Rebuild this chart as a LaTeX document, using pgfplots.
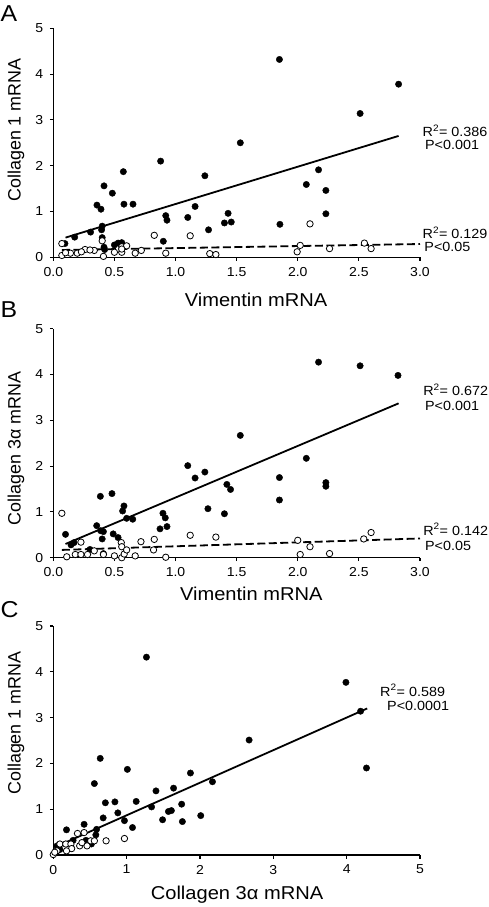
\documentclass[border=0pt]{standalone}
\usepackage{pgfplots}
\pgfplotsset{compat=1.18}
\usepackage{fontspec}
\setmainfont{Liberation Sans}[FakeStretch=1.08]
\newfontfamily\ylfont{Liberation Sans}

\pgfplotsset{
  panel/.style={
    scale only axis, width=366.7pt, height=229pt,
    axis lines=left, axis line style={-, line width=1.1pt},
    tick align=outside, major tick length=3.5pt,
    tick style={line width=1.1pt, black},
    ymin=0, ymax=5, ytick={0,1,2,3,4,5},
    enlargelimits=false, clip=false,
    /pgf/number format/assume math mode=true,
    tick label style={font=\fontsize{13}{15}\selectfont},
    xticklabel style={yshift=-3pt},
    yticklabel style={xshift=-3pt},
    xlabel style={font=\fontsize{18.6}{22}\selectfont},
    ylabel style={font=\ylfont\fontsize{17.9}{21}\selectfont},
  },
  filled/.style={only marks, mark=*, mark size=3.2pt, mark options={fill=black, draw=black, line width=0.4pt}},
  open/.style={only marks, mark=*, mark size=3.2pt, mark options={fill=white, draw=black, line width=0.8pt}},
  fit/.style={black, line width=1.8pt, no marks},
  fitd/.style={black, line width=1.8pt, no marks, dash pattern=on 8pt off 3.5pt},
}
\tikzset{ann/.style={anchor=base west, inner sep=0pt, text height=0.75em, text depth=0pt, font=\fontsize{13.3}{15}\selectfont}}

\begin{document}
\begin{tikzpicture}
\path[use as bounding box] (0pt,0pt) rectangle (488pt,-907pt);
\node[anchor=base west, inner sep=0pt, font=\fontsize{23}{25}\selectfont] at (0.5pt,-22pt) {A};
\node[anchor=base west, inner sep=0pt, font=\fontsize{23}{25}\selectfont] at (0.5pt,-317pt) {B};
\node[anchor=base west, inner sep=0pt, font=\fontsize{23}{25}\selectfont] at (0.5pt,-617pt) {C};

% ---------------- Panel A ----------------
\begin{axis}[panel, at={(53.3pt,-257.3pt)}, anchor=south west,
  xmin=0, xmax=3, xtick={0,0.5,1,1.5,2,2.5,3},
  xticklabel style={/pgf/number format/.cd, fixed, fixed zerofill, precision=1},
  xlabel={Vimentin mRNA}, xlabel style={at={(axis description cs:0.553,-0.216)}, anchor=base},
  ylabel={Collagen 1 mRNA}, ylabel style={at={(axis description cs:-0.102,0.556)}, anchor=center},
]
\addplot[filled] coordinates {
(1.85,4.32) (2.825,3.78) (2.51,3.14) (1.53,2.50) (0.878,2.10) (0.573,1.87)
(1.24,1.78) (2.17,1.91) (2.07,1.59) (2.23,1.46) (0.415,1.56) (0.483,1.40)
(0.357,1.14) (0.39,1.05) (0.578,1.16) (0.652,1.16) (1.16,1.11) (1.10,0.87)
(0.92,0.91) (0.93,0.81) (1.43,0.96) (2.23,0.95) (1.40,0.75) (1.456,0.77)
(1.854,0.72) (1.27,0.60) (0.40,0.68) (0.395,0.60) (0.305,0.55) (0.175,0.44)
(0.095,0.30) (0.40,0.43) (0.90,0.35) (0.50,0.27) (0.53,0.31) (0.56,0.32)
(0.415,0.22) (0.42,0.17)
};
\addplot[open] coordinates {
(0.07,0.30) (0.07,0.04) (0.14,0.09) (0.196,0.09) (0.26,0.17) (0.335,0.15)
(0.10,0.10) (0.23,0.12) (0.30,0.16)
(0.40,0.36) (0.41,0.02) (0.50,0.11) (0.56,0.11) (0.56,0.23) (0.60,0.25)
(0.56,0.18)
(0.67,0.09) (0.72,0.15) (0.826,0.48) (0.92,0.09) (1.12,0.47) (1.28,0.08)
(1.33,0.06) (1.995,0.12) (2.02,0.26) (2.10,0.73) (2.26,0.19) (2.545,0.31) (2.60,0.19)
};
\addplot[fit] coordinates {(0.10,0.43) (2.825,2.65)};
\addplot[fitd] coordinates {(0.07,0.16) (3.0,0.29)};
\node[ann] at (axis cs:3.02,2.627) {R\textsuperscript{2}= 0.386};
\node[ann] at (axis cs:3.04,2.35) {P<0.001};
\node[ann] at (axis cs:3.02,0.40) {R\textsuperscript{2}= 0.129};
\node[ann] at (axis cs:3.035,0.116) {P<0.05};
\end{axis}

% ---------------- Panel B ----------------
\begin{axis}[panel, at={(53.3pt,-557.7pt)}, anchor=south west,
  xmin=0, xmax=3, xtick={0,0.5,1,1.5,2,2.5,3},
  xticklabel style={/pgf/number format/.cd, fixed, fixed zerofill, precision=1},
  xlabel={Vimentin mRNA}, xlabel style={at={(axis description cs:0.540,-0.187)}, anchor=base},
  ylabel={Collagen 3α mRNA}, ylabel style={at={(axis description cs:-0.102,0.477)}, anchor=center},
]
\addplot[filled] coordinates {
(2.17,4.27) (2.51,4.19) (2.82,3.98) (1.53,2.67) (1.10,2.01) (2.07,2.17)
(1.24,1.87) (1.16,1.74) (1.85,1.75) (1.42,1.60) (1.45,1.49) (2.23,1.64)
(2.23,1.56) (1.85,1.26) (1.265,1.07) (1.40,0.96) (0.48,1.40) (0.385,1.34)
(0.578,1.13) (0.567,1.02) (0.60,0.86) (0.65,0.84) (0.897,0.97) (0.916,0.87)
(0.873,0.63) (0.93,0.68) (0.355,0.70) (0.387,0.59) (0.41,0.57) (0.40,0.41)
(0.49,0.52) (0.53,0.44) (0.10,0.51) (0.17,0.33) (0.145,0.28) (0.30,0.18)
(0.41,0.09)
};
\addplot[open] coordinates {
(0.07,0.97) (0.11,0.02) (0.18,0.07) (0.226,0.34) (0.226,0.07) (0.28,0.07)
(0.335,0.15) (0.41,0.07) (0.50,0.04) (0.556,0.33) (0.56,0.24) (0.56,0.0)
(0.58,0.08) (0.60,0.17) (0.67,0.04) (0.717,0.35) (0.826,0.40) (0.82,0.17)
(0.92,0.01) (1.12,0.49) (1.33,0.45) (2.0,0.38) (2.02,0.07) (2.10,0.24)
(2.26,0.09) (2.54,0.41) (2.60,0.55)
};
\addplot[fit] coordinates {(0.10,0.30) (2.825,3.37)};
\addplot[fitd] coordinates {(0.07,0.17) (3.0,0.42)};
\node[ann] at (axis cs:3.025,3.546) {R\textsuperscript{2}= 0.672};
\node[ann] at (axis cs:3.04,3.22) {P<0.001};
\node[ann] at (axis cs:3.025,0.495) {R\textsuperscript{2}= 0.142};
\node[ann] at (axis cs:3.04,0.168) {P<0.05};
\end{axis}

% ---------------- Panel C ----------------
\begin{axis}[panel, at={(53.3pt,-855pt)}, anchor=south west,
  xmin=0, xmax=5, xtick={0,1,2,3,4,5},
  xlabel={Collagen 3α mRNA}, xlabel style={at={(axis description cs:0.501,-0.196)}, anchor=base},
  ylabel={Collagen 1 mRNA}, ylabel style={at={(axis description cs:-0.102,0.576)}, anchor=center},
]
\addplot[filled] coordinates {
(1.27,4.32) (3.99,3.77) (4.19,3.14) (4.27,1.90) (2.67,2.51) (0.64,2.11)
(1.01,1.87) (1.87,1.79) (2.17,1.60) (0.56,1.56) (1.64,1.46) (1.40,1.40)
(0.71,1.14) (0.84,1.16) (1.13,1.17) (1.75,1.11) (1.34,1.05) (1.57,0.95)
(1.61,0.97) (0.88,0.92) (0.68,0.81) (0.97,0.75) (1.49,0.77) (2.01,0.86)
(1.76,0.73) (1.08,0.60) (0.42,0.67) (0.18,0.55) (0.59,0.56) (0.58,0.44)
(0.445,0.32) (0.27,0.32) (0.52,0.24) (0.05,0.20) (0.09,0.12)
};
\addplot[open] coordinates {
(0.33,0.47) (0.42,0.49) (0.72,0.31) (0.97,0.36) (0.09,0.24) (0.17,0.24)
(0.24,0.24) (0.36,0.20) (0.46,0.20) (0.51,0.31) (0.56,0.31) (0.25,0.14)
(0.18,0.09) (0.05,0.09) (0.0,0.01) (0.02,0.06) (0.39,0.27)
};
\addplot[fit] coordinates {(0.02,0.17) (4.28,3.20)};
\node[ann] at (axis cs:4.455,3.467) {R\textsuperscript{2}= 0.589};
\node[ann] at (axis cs:4.55,3.16) {P<0.0001};
\end{axis}
\end{tikzpicture}
\end{document}
